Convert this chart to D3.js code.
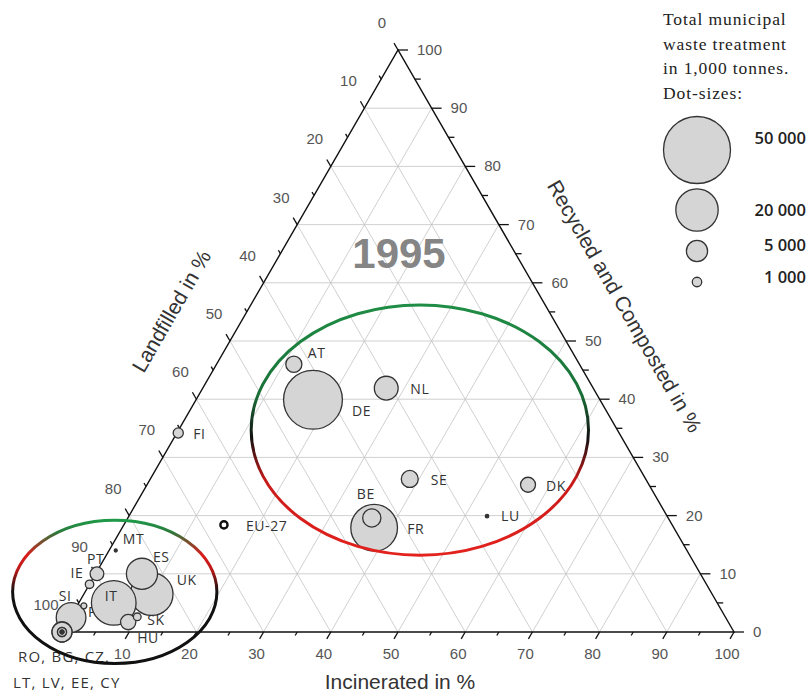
<!DOCTYPE html>
<html>
<head>
<meta charset="utf-8">
<script src="https://cdn.jsdelivr.net/npm/d3@7"></script>
<style>
  body { margin: 0; background: #fff; }
  svg { display: block; }
  .tick-label { font-family: "Liberation Sans", Arial, sans-serif; font-size: 15px; fill: #555; }
  .axis-title { font-family: "Liberation Sans", Arial, sans-serif; font-size: 21px; fill: #333; }
  .country { font-family: "Open Sans", sans-serif; font-size: 14px; fill: #333; letter-spacing: 0.6px; }
</style>
</head>
<body>
<div id="chart"></div>
<script>
// 1995 shares (%) per country: landfilled, incinerated, recycled+composted
const countries   = ["DE", "AT", "NL", "SE", "DK", "FR", "BE", "LU", "FI", "MT",
                     "UK", "ES", "PL", "IT", "PT", "IE", "SI", "HU", "SK",
                     "RO", "CZ", "BG", "LT", "LV", "EE", "CY"];
const landfilled  = [42.7, 42.5, 30.8, 35.1, 18.0, 44.6, 44.1, 26.8, 65.6, 85.0,
                     83.4, 83.1, 97.4, 89.8, 89.8, 91.8, 94.5, 89.3, 87.5,
                     100, 100, 100, 100, 100, 100, 100];
const incinerated = [17.4, 11.5, 27.3, 38.6, 56.7, 37.5, 36.3, 53.3, 0.2, 1.0,
                     10.1, 6.9, 0.1, 5.2, 0.2, 0.0, 1.0, 9.0, 9.9,
                     0, 0, 0, 0, 0, 0, 0];
const recycled    = [39.9, 46.0, 41.9, 26.3, 25.3, 17.9, 19.6, 19.9, 34.2, 14.0,
                     6.5, 10.0, 2.5, 5.0, 10.0, 8.2, 4.5, 1.7, 2.6,
                     0, 0, 0, 0, 0, 0, 0];
// total municipal waste treatment, 1,000 tonnes
const totals      = [38600, 2900, 6300, 3200, 2500, 24300, 3700, 130, 1150, 100,
                     20200, 10800, 9800, 22200, 2100, 800, 400, 2600, 660,
                     4500, 4450, 950, 900, 200, 150, 100];
const eu27 = [66.7, 14.9, 18.4];
const legendValues = [50000, 20000, 5000, 1000];
const ticks = d3.range(0, 101, 10);

// label placement (px offsets from the dot)
const labelPos = {
  DE: [39, 12], AT: [14, -10], NL: [24, 2], SE: [21, 2], DK: [18, 2],
  FR: [33, 2], BE: [-15, -23], LU: [14, 1], FI: [15, 2], MT: [7, -10],
  UK: [25, -13], ES: [11, -16], PL: [17, -4], IT: [-9, -6], PT: [-10, -14],
  IE: [-19, -10], SI: [-25, -9], HU: [9, 17], SK: [10, 4]
};

const width = 809, height = 694;
const svg = d3.select("#chart").append("svg")
  .attr("width", width)
  .attr("height", height);

const xS = d3.scaleLinear().domain([0, 100]).range([62, 734]);
const yS = d3.scaleLinear().domain([0, 100]).range([632, 50]);
const rS = d3.scaleSqrt().domain([0, 50000]).range([0, 33.5]);

function proj(L, I, R) {
  const s = L + I + R;
  I = I * 100 / s; R = R * 100 / s;
  return [xS(I + R / 2), yS(R)];
}

// gradients for the two ellipses
const defs = svg.append("defs");
function grad(id, stops) {
  const g = defs.append("linearGradient").attr("id", id)
    .attr("x1", 0).attr("y1", 0).attr("x2", 0).attr("y2", 1);
  stops.forEach(s => g.append("stop").attr("offset", s[0]).attr("stop-color", s[1]));
}
grad("gBig", [[0, "#1f8d45"], [0.36, "#1a7038"], [0.53, "#111"], [0.7, "#c81a1a"], [1, "#e3221d"]]);
grad("gSmall", [[0, "#1f9a48"], [0.08, "#2a7a3c"], [0.24, "#d81c1c"], [0.34, "#c01818"], [0.5, "#111"], [1, "#111"]]);

// grid
const grid = svg.append("g").attr("stroke", "#c4c4c4").attr("stroke-width", 0.8).attr("fill", "none");
d3.range(10, 100, 10).forEach(k => {
  const lines = [
    [proj(100 - k, 0, k), proj(0, 100 - k, k)],
    [proj(100 - k, k, 0), proj(0, k, 100 - k)],
    [proj(k, 100 - k, 0), proj(k, 0, 100 - k)]
  ];
  lines.forEach(l => grid.append("line")
    .attr("x1", l[0][0]).attr("y1", l[0][1]).attr("x2", l[1][0]).attr("y2", l[1][1]));
});

// triangle frame
svg.append("path")
  .attr("d", d3.line()([proj(100, 0, 0), proj(0, 100, 0), proj(0, 0, 100)]) + "Z")
  .attr("fill", "none").attr("stroke", "#111").attr("stroke-width", 1.4);

// ticks
const tickG = svg.append("g").attr("stroke", "#111").attr("stroke-width", 1.3);
const c60 = Math.cos(Math.PI / 3), s60 = Math.sin(Math.PI / 3);
d3.range(0, 101, 5).forEach(k => {
  const len = k % 10 === 0 ? 8 : 4;
  let p = proj(k, 0, 100 - k);            // landfilled, left edge
  tickG.append("line").attr("x1", p[0]).attr("y1", p[1])
    .attr("x2", p[0] - c60 * len).attr("y2", p[1] - s60 * len);
  p = proj(100 - k, k, 0);                // incinerated, bottom edge
  tickG.append("line").attr("x1", p[0]).attr("y1", p[1])
    .attr("x2", p[0] - c60 * len).attr("y2", p[1] + s60 * len);
  p = proj(0, 100 - k, k);                // recycled, right edge
  tickG.append("line").attr("x1", p[0]).attr("y1", p[1])
    .attr("x2", p[0] + len + 2).attr("y2", p[1]);
});

ticks.forEach(k => {
  let p = proj(k, 0, 100 - k);
  svg.append("text").attr("class", "tick-label")
    .attr("x", p[0] - 16).attr("y", p[1] - 26)
    .attr("text-anchor", "middle").attr("dominant-baseline", "middle").text(k);
  if (k > 0) {
    p = proj(100 - k, k, 0);
    svg.append("text").attr("class", "tick-label")
      .attr("x", p[0] - 7).attr("y", p[1] + 23)
      .attr("text-anchor", "middle").attr("dominant-baseline", "middle").text(k);
  }
  p = proj(0, 100 - k, k);
  svg.append("text").attr("class", "tick-label")
    .attr("x", p[0] + 19).attr("y", p[1] + 1)
    .attr("dominant-baseline", "middle").text(k);
});

// axis titles
svg.append("text").attr("class", "axis-title")
  .attr("transform", "translate(173,312) rotate(-60)")
  .attr("text-anchor", "middle").attr("dominant-baseline", "middle")
  .text("Landfilled in %");
svg.append("text").attr("class", "axis-title")
  .attr("transform", "translate(623,307) rotate(60)")
  .attr("text-anchor", "middle").attr("dominant-baseline", "middle")
  .text("Recycled and Composted in %");
svg.append("text").attr("class", "axis-title")
  .attr("x", 400).attr("y", 683)
  .attr("text-anchor", "middle").attr("dominant-baseline", "middle")
  .text("Incinerated in %");

// year
svg.append("text")
  .attr("x", 399).attr("y", 268)
  .attr("text-anchor", "middle")
  .style("font-family", "Liberation Sans, Arial, sans-serif")
  .style("font-size", "42px").style("font-weight", "bold")
  .attr("fill", "#858585")
  .text("1995");

// countries
const data = countries.map((c, i) => ({
  name: c, L: landfilled[i], I: incinerated[i], R: recycled[i], total: totals[i]
}));

const pts = svg.selectAll(".pt")
  .data(data)
  .join("g")
  .attr("class", "pt")
  .attr("transform", d => `translate(${proj(d.L, d.I, d.R)})`);

pts.append("circle")
  .attr("r", d => rS(d.total))
  .attr("fill", d => d.total < 200 ? "#333" : "#d5d5d5")
  .attr("stroke", "#333")
  .attr("stroke-width", 1.3);

pts.filter(d => labelPos[d.name])
  .append("text")
  .attr("class", "country")
  .attr("x", d => labelPos[d.name][0])
  .attr("y", d => labelPos[d.name][1])
  .attr("dominant-baseline", "middle")
  .text(d => d.name);

// EU-27 marker
const eu = proj(...eu27);
svg.append("circle").attr("cx", eu[0]).attr("cy", eu[1]).attr("r", 3.6)
  .attr("fill", "#fff").attr("stroke", "#111").attr("stroke-width", 2.4);
svg.append("text").attr("class", "country")
  .attr("x", eu[0] + 22).attr("y", eu[1] + 2)
  .attr("dominant-baseline", "middle").text("EU-27");

svg.append("text").attr("class", "country").attr("x", 18).attr("y", 658)
  .attr("dominant-baseline", "middle").style("font-size", "15px").style("letter-spacing", "1.2px")
  .text("RO, BG, CZ,");
svg.append("text").attr("class", "country").attr("x", 13).attr("y", 684)
  .attr("dominant-baseline", "middle").style("font-size", "15px").style("letter-spacing", "1.2px")
  .text("LT, LV, EE, CY");

// ellipses (center in %, radii in % units)
function ell(L, I, R, rx, ry, gid) {
  const c = proj(L, I, R);
  svg.append("ellipse")
    .attr("cx", c[0]).attr("cy", c[1])
    .attr("rx", xS(rx) - xS(0)).attr("ry", yS(0) - yS(ry))
    .attr("fill", "none").attr("stroke", `url(#${gid})`).attr("stroke-width", 3);
}
ell(29.4, 35.9, 34.7, 25.1, 21.5, "gBig");
ell(88.7, 4.4, 6.9, 15.2, 12.3, "gSmall");

// legend
const lg = svg.append("g");
["Total municipal", "waste treatment", "in 1,000 tonnes.", "Dot-sizes:"].forEach((t, i) => {
  lg.append("text")
    .attr("x", 663).attr("y", 25 + i * 24.6)
    .style("font-family", "Liberation Serif, Times New Roman, serif")
    .style("font-size", "17.5px").style("letter-spacing", "0.9px").attr("fill", "#222")
    .text(t);
});
const legendY = [150, 210, 251, 282];
const legendTextDy = [-10, 2, -4, -3];
legendValues.forEach((v, i) => {
  lg.append("circle").attr("cx", 697).attr("cy", legendY[i]).attr("r", rS(v))
    .attr("fill", "#d5d5d5").attr("stroke", "#333").attr("stroke-width", 1.3);
  lg.append("text")
    .attr("x", 806).attr("y", legendY[i] + legendTextDy[i])
    .attr("text-anchor", "end").attr("dominant-baseline", "middle")
    .style("font-family", "Open Sans, sans-serif").style("font-size", "16.5px")
    .style("font-weight", 600).attr("fill", "#222")
    .text(d3.format(",")(v).replace(",", " "));
});
</script>
</body>
</html>
